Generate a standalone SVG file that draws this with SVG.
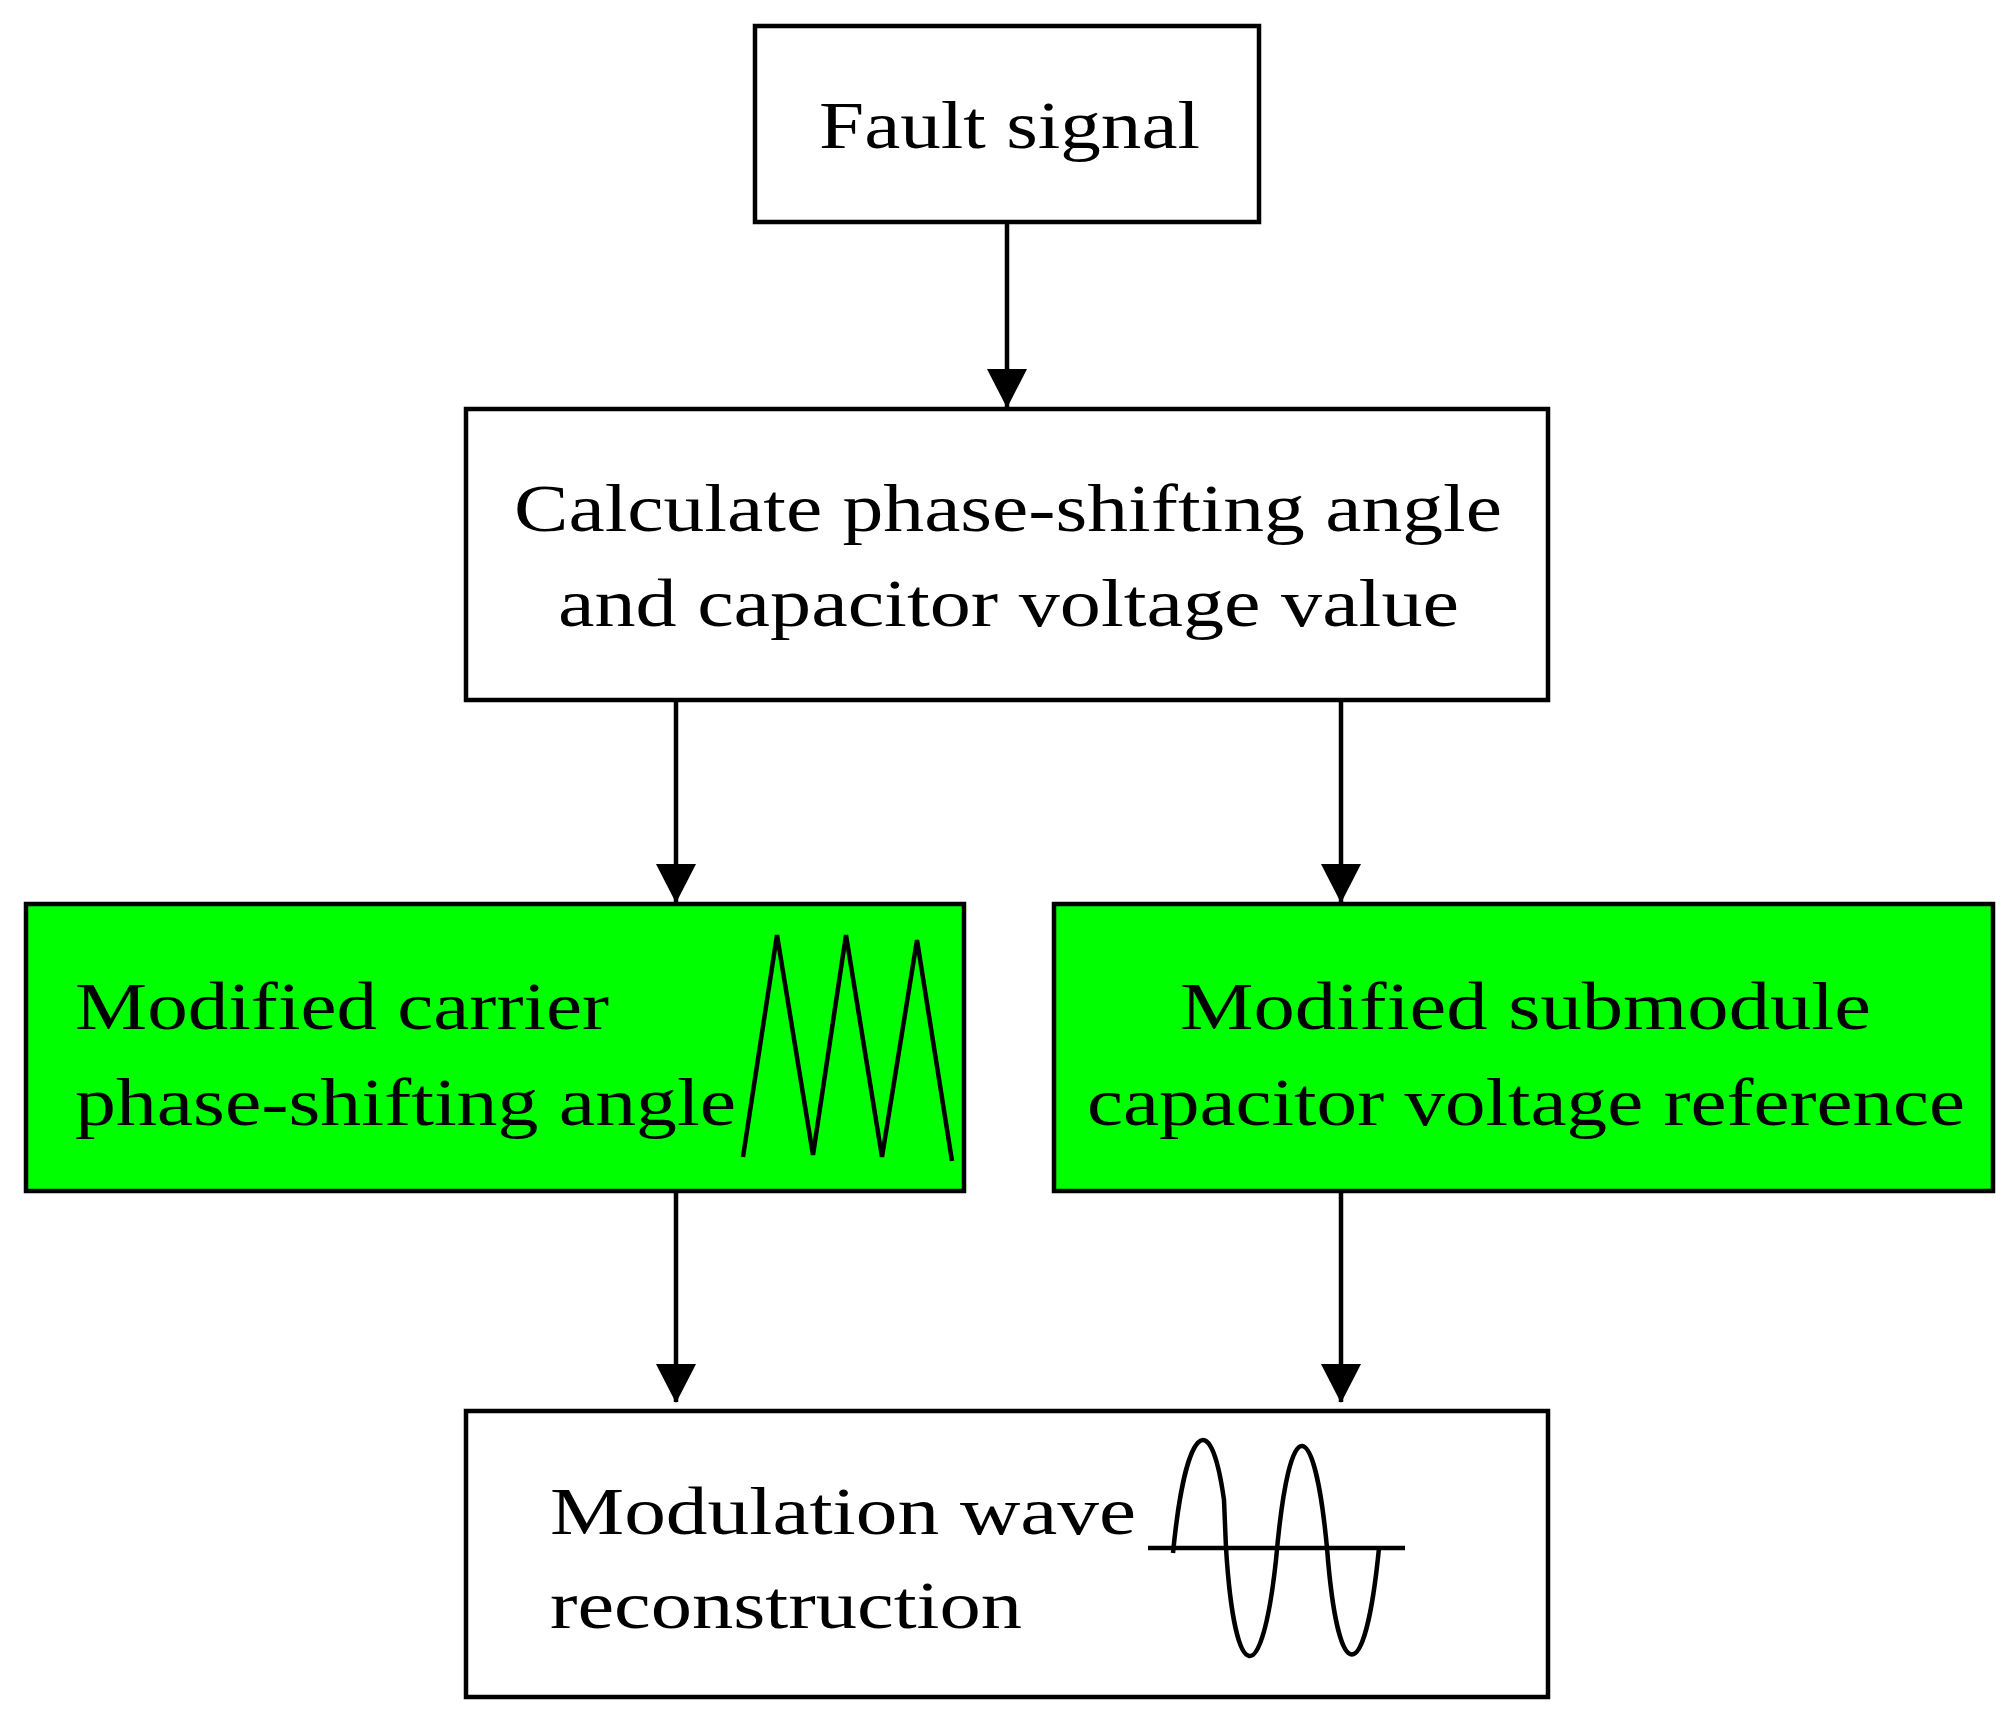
<svg xmlns="http://www.w3.org/2000/svg" width="2016" height="1719" viewBox="0 0 2016 1719">
<defs>
<style>
.box{stroke:#000;stroke-width:4.5;fill:#fff}
.g{fill:#00ff00}
text{font-family:"Liberation Serif",serif;font-size:68px;fill:#000}
.c{stroke:#000;stroke-width:4.5;fill:none}
</style>
<marker id="ah" markerUnits="userSpaceOnUse" markerWidth="40" markerHeight="54" refX="38" refY="20" orient="auto">
<path d="M0,0 L52,20 L0,40 Z" fill="#000" transform="scale(0.75,1)"/>
</marker>
</defs>
<rect width="2016" height="1719" fill="#fff"/>
<g id="connectors">
<line class="c" x1="1007" y1="222" x2="1007" y2="407" marker-end="url(#ah)"/>
<line class="c" x1="676" y1="700" x2="676" y2="902" marker-end="url(#ah)"/>
<line class="c" x1="1341" y1="700" x2="1341" y2="902" marker-end="url(#ah)"/>
<line class="c" x1="676" y1="1191" x2="676" y2="1402" marker-end="url(#ah)"/>
<line class="c" x1="1341" y1="1191" x2="1341" y2="1402" marker-end="url(#ah)"/>
</g>
<g id="fault">
<rect class="box" x="755" y="26" width="504" height="196"/>
<text x="819" y="148" textLength="381" lengthAdjust="spacingAndGlyphs">Fault signal</text>
</g>
<g id="calc">
<rect class="box" x="466" y="409" width="1082" height="291"/>
<text x="514" y="531" textLength="988" lengthAdjust="spacingAndGlyphs">Calculate phase-shifting angle</text>
<text x="558" y="626" textLength="901" lengthAdjust="spacingAndGlyphs">and capacitor voltage value</text>
</g>
<g id="carrier">
<rect class="box g" x="26" y="904" width="938" height="287"/>
<text x="75" y="1029" textLength="534" lengthAdjust="spacingAndGlyphs">Modified carrier</text>
<text x="75" y="1125" textLength="661" lengthAdjust="spacingAndGlyphs">phase-shifting angle</text>
<polyline class="c" stroke-width="5" points="743,1157 777,935 813,1155 846,935 882,1157 917,940 952,1161"/>
</g>
<g id="submodule">
<rect class="box g" x="1054" y="904" width="939" height="287"/>
<text x="1180" y="1029" textLength="691" lengthAdjust="spacingAndGlyphs">Modified submodule</text>
<text x="1087" y="1125" textLength="878" lengthAdjust="spacingAndGlyphs">capacitor voltage reference</text>
</g>
<g id="modulation">
<rect class="box" x="466" y="1411" width="1082" height="286"/>
<text x="550" y="1534" textLength="586" lengthAdjust="spacingAndGlyphs">Modulation wave</text>
<text x="550" y="1628" textLength="472" lengthAdjust="spacingAndGlyphs">reconstruction</text>
<line class="c" x1="1148" y1="1548" x2="1405" y2="1548"/>
<path class="c" d="M1173,1553 C1185,1430 1210,1400 1224,1500 L1226,1548 C1235,1690 1262,1690 1276,1560 C1290,1400 1315,1420 1327,1548 C1338,1690 1365,1690 1379,1548"/>
</g>
</svg>
